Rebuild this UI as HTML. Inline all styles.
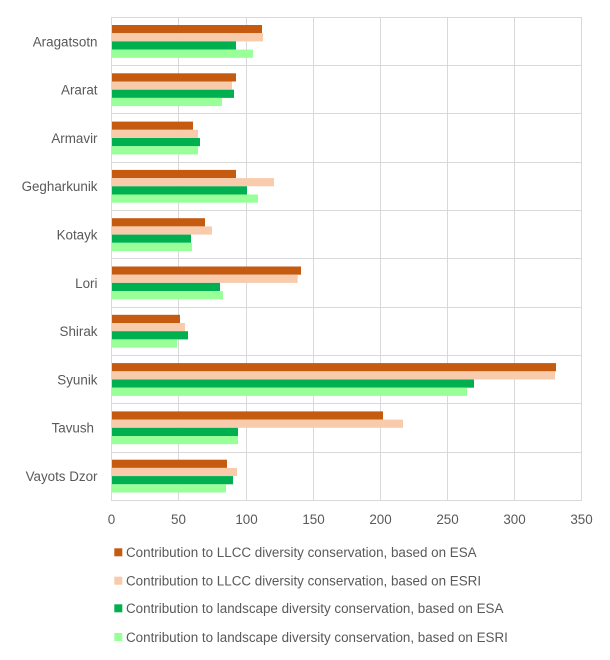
<!DOCTYPE html>
<html>
<head>
<meta charset="utf-8">
<style>
html,body{margin:0;padding:0;background:#fff;}
svg{display:block;}
text{font-family:"Liberation Sans",Arial,sans-serif;fill:#595959;}
</style>
</head>
<body>
<svg width="610" height="660" viewBox="0 0 610 660" xmlns="http://www.w3.org/2000/svg">
<rect x="0" y="0" width="610" height="660" fill="#fff"/>
<!-- horizontal gridlines -->
<g stroke="#D9D9D9" stroke-width="1">
<line x1="111" y1="17.5" x2="582" y2="17.5"/>
<line x1="111" y1="65.5" x2="582" y2="65.5"/>
<line x1="111" y1="113.5" x2="582" y2="113.5"/>
<line x1="111" y1="162.5" x2="582" y2="162.5"/>
<line x1="111" y1="210.5" x2="582" y2="210.5"/>
<line x1="111" y1="258.5" x2="582" y2="258.5"/>
<line x1="111" y1="307.5" x2="582" y2="307.5"/>
<line x1="111" y1="355.5" x2="582" y2="355.5"/>
<line x1="111" y1="403.5" x2="582" y2="403.5"/>
<line x1="111" y1="452.5" x2="582" y2="452.5"/>
<line x1="111" y1="500.5" x2="582" y2="500.5"/>
<!-- vertical gridlines -->
<line x1="111.5" y1="17" x2="111.5" y2="501"/>
<line x1="178.5" y1="17" x2="178.5" y2="501"/>
<line x1="246.5" y1="17" x2="246.5" y2="501"/>
<line x1="313.5" y1="17" x2="313.5" y2="501"/>
<line x1="380.5" y1="17" x2="380.5" y2="501"/>
<line x1="447.5" y1="17" x2="447.5" y2="501"/>
<line x1="514.5" y1="17" x2="514.5" y2="501"/>
<line x1="581.5" y1="17" x2="581.5" y2="501"/>
</g>
<!-- bars: each category top = 17.3+48.3i ; bars start +7.7, height 8.2 -->
<g>
<!-- Aragatsotn i=0 top 25.0 -->
<rect x="112" y="25.0" width="150" height="8.2" fill="#C55A11"/>
<rect x="112" y="33.2" width="151" height="8.2" fill="#F8CBAD"/>
<rect x="112" y="41.4" width="124" height="8.2" fill="#00B050"/>
<rect x="112" y="49.6" width="141" height="8.2" fill="#99FF99"/>
<!-- Ararat i=1 top 73.3 -->
<rect x="112" y="73.3" width="124" height="8.2" fill="#C55A11"/>
<rect x="112" y="81.5" width="120" height="8.2" fill="#F8CBAD"/>
<rect x="112" y="89.7" width="122" height="8.2" fill="#00B050"/>
<rect x="112" y="97.9" width="110" height="8.2" fill="#99FF99"/>
<!-- Armavir i=2 top 121.6 -->
<rect x="112" y="121.6" width="81" height="8.2" fill="#C55A11"/>
<rect x="112" y="129.8" width="86" height="8.2" fill="#F8CBAD"/>
<rect x="112" y="138.0" width="88" height="8.2" fill="#00B050"/>
<rect x="112" y="146.2" width="86" height="8.2" fill="#99FF99"/>
<!-- Gegharkunik i=3 top 169.9 -->
<rect x="112" y="169.9" width="124" height="8.2" fill="#C55A11"/>
<rect x="112" y="178.1" width="162" height="8.2" fill="#F8CBAD"/>
<rect x="112" y="186.3" width="135" height="8.2" fill="#00B050"/>
<rect x="112" y="194.5" width="146" height="8.2" fill="#99FF99"/>
<!-- Kotayk i=4 top 218.2 -->
<rect x="112" y="218.2" width="93" height="8.2" fill="#C55A11"/>
<rect x="112" y="226.4" width="100" height="8.2" fill="#F8CBAD"/>
<rect x="112" y="234.6" width="79" height="8.2" fill="#00B050"/>
<rect x="112" y="242.8" width="80" height="8.2" fill="#99FF99"/>
<!-- Lori i=5 top 266.5 -->
<rect x="112" y="266.5" width="189" height="8.2" fill="#C55A11"/>
<rect x="112" y="274.7" width="185.7" height="8.2" fill="#F8CBAD"/>
<rect x="112" y="282.9" width="108" height="8.2" fill="#00B050"/>
<rect x="112" y="291.1" width="111" height="8.2" fill="#99FF99"/>
<!-- Shirak i=6 top 314.8 -->
<rect x="112" y="314.8" width="68" height="8.2" fill="#C55A11"/>
<rect x="112" y="323.0" width="73" height="8.2" fill="#F8CBAD"/>
<rect x="112" y="331.2" width="76" height="8.2" fill="#00B050"/>
<rect x="112" y="339.4" width="65" height="8.2" fill="#99FF99"/>
<!-- Syunik i=7 top 363.1 -->
<rect x="112" y="363.1" width="444" height="8.2" fill="#C55A11"/>
<rect x="112" y="371.3" width="443" height="8.2" fill="#F8CBAD"/>
<rect x="112" y="379.5" width="362" height="8.2" fill="#00B050"/>
<rect x="112" y="387.7" width="355" height="8.2" fill="#99FF99"/>
<!-- Tavush i=8 top 411.4 -->
<rect x="112" y="411.4" width="271" height="8.2" fill="#C55A11"/>
<rect x="112" y="419.6" width="291" height="8.2" fill="#F8CBAD"/>
<rect x="112" y="427.8" width="126" height="8.2" fill="#00B050"/>
<rect x="112" y="436.0" width="126" height="8.2" fill="#99FF99"/>
<!-- Vayots Dzor i=9 top 459.7 -->
<rect x="112" y="459.7" width="115" height="8.2" fill="#C55A11"/>
<rect x="112" y="467.9" width="125" height="8.2" fill="#F8CBAD"/>
<rect x="112" y="476.1" width="121" height="8.2" fill="#00B050"/>
<rect x="112" y="484.3" width="114" height="8.2" fill="#99FF99"/>
</g>
<!-- category labels -->
<g font-size="13.4" text-anchor="end">
<text x="97.5" y="46.3">Aragatsotn</text>
<text x="97.5" y="94.6">Ararat</text>
<text x="97.5" y="142.9">Armavir</text>
<text x="97.5" y="191.2">Gegharkunik</text>
<text x="97.5" y="239.5">Kotayk</text>
<text x="97.5" y="287.8">Lori</text>
<text x="97.5" y="336.1">Shirak</text>
<text x="97.5" y="384.4">Syunik</text>
<text x="94" y="432.7">Tavush</text>
<text x="97.5" y="481.0">Vayots Dzor</text>
</g>
<!-- x tick labels -->
<g font-size="13.4" text-anchor="middle">
<text x="111.5" y="523.8">0</text>
<text x="178.5" y="523.8">50</text>
<text x="246.5" y="523.8">100</text>
<text x="313.5" y="523.8">150</text>
<text x="380.5" y="523.8">200</text>
<text x="447.5" y="523.8">250</text>
<text x="514.5" y="523.8">300</text>
<text x="581.5" y="523.8">350</text>
</g>
<!-- legend -->
<rect x="114.3" y="548.3" width="8" height="8" fill="#C55A11"/>
<rect x="114.3" y="576.7" width="8" height="8" fill="#F8CBAD"/>
<rect x="114.3" y="604.3" width="8" height="8" fill="#00B050"/>
<rect x="114.3" y="633.0" width="8" height="8" fill="#99FF99"/>
<g font-size="13.4">
<text x="126" y="557.1">Contribution to LLCC diversity conservation, based on ESA</text>
<text x="126" y="585.5">Contribution to LLCC diversity conservation, based on ESRI</text>
<text x="126" y="613.1">Contribution to landscape diversity conservation, based on ESA</text>
<text x="126" y="641.8">Contribution to landscape diversity conservation, based on ESRI</text>
</g>
</svg>
</body>
</html>
